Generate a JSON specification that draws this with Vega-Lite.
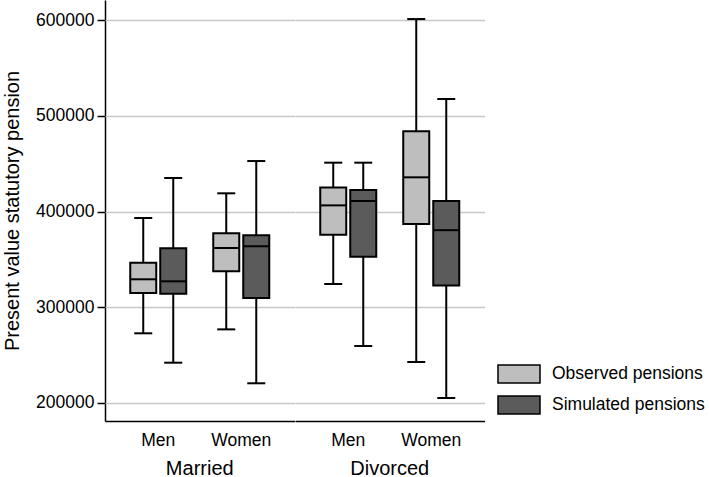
{
  "$schema": "https://vega.github.io/schema/vega-lite/v6.json",
  "padding": {"left": 2, "top": 0, "right": 0, "bottom": 0},
  "background": "white",
  "data": {"values": [
    {"marital": "Married", "gender": "Men", "type": "Observed pensions", "lower": 272800, "q1": 314900, "median": 329200, "q3": 346500, "upper": 393200},
    {"marital": "Married", "gender": "Men", "type": "Simulated pensions", "lower": 242100, "q1": 314200, "median": 327100, "q3": 361600, "upper": 435000},
    {"marital": "Married", "gender": "Women", "type": "Observed pensions", "lower": 276900, "q1": 337500, "median": 361900, "q3": 377200, "upper": 419000},
    {"marital": "Married", "gender": "Women", "type": "Simulated pensions", "lower": 220600, "q1": 309700, "median": 363700, "q3": 375100, "upper": 452700},
    {"marital": "Divorced", "gender": "Men", "type": "Observed pensions", "lower": 324300, "q1": 375700, "median": 406400, "q3": 425200, "upper": 451000},
    {"marital": "Divorced", "gender": "Men", "type": "Simulated pensions", "lower": 259500, "q1": 352800, "median": 411000, "q3": 422500, "upper": 451000},
    {"marital": "Divorced", "gender": "Women", "type": "Observed pensions", "lower": 242800, "q1": 387000, "median": 435700, "q3": 483800, "upper": 601000},
    {"marital": "Divorced", "gender": "Women", "type": "Simulated pensions", "lower": 205200, "q1": 322600, "median": 380500, "q3": 411000, "upper": 517500}
  ]},
  "facet": {
    "column": {
      "field": "marital", "type": "nominal", "sort": ["Married", "Divorced"],
      "header": {"title": null, "labelOrient": "bottom", "labelFontSize": 20, "labelFont": "Liberation Sans", "labelPadding": 10, "labelColor": "black"}
    }
  },
  "spacing": 0,
  "spec": {
    "width": 189.5,
    "height": 421,
    "encoding": {
      "x": {
        "field": "gender", "type": "nominal", "sort": ["Men", "Women"],
        "scale": {"paddingInner": 0.277, "paddingOuter": 0.28},
        "axis": {"title": null, "labelAngle": 0, "ticks": false, "tickSize": 0, "labelPadding": 10, "labelFontSize": 17.5, "labelColor": "black", "domainColor": "black", "domainWidth": 1.5, "grid": false}
      },
      "xOffset": {
        "field": "type", "type": "nominal", "sort": ["Observed pensions", "Simulated pensions"],
        "scale": {"paddingInner": 0, "paddingOuter": 0}
      }
    },
    "layer": [
      {
        "mark": {"type": "rule", "stroke": "black", "strokeWidth": 2},
        "encoding": {
          "y": {
            "field": "lower", "type": "quantitative",
            "scale": {"domain": [181200, 620900], "nice": false, "zero": false},
            "title": "Present value statutory pension",
            "axis": {"values": [200000, 300000, 400000, 500000, 600000], "format": "d", "labelFontSize": 17.5, "labelColor": "black", "tickSize": 8, "tickColor": "black", "tickWidth": 1.5, "domainColor": "black", "domainWidth": 1.5, "grid": true, "gridColor": "#c8c8c8", "gridWidth": 1.5, "titleFontSize": 20, "titleFontWeight": "normal", "titleColor": "black", "titlePadding": 13, "labelPadding": 3}
          },
          "y2": {"field": "upper"}
        }
      },
      {
        "mark": {"type": "tick", "color": "black", "thickness": 2, "size": 18, "opacity": 1},
        "encoding": {"y": {"field": "lower", "type": "quantitative"}}
      },
      {
        "mark": {"type": "tick", "color": "black", "thickness": 2, "size": 18, "opacity": 1},
        "encoding": {"y": {"field": "upper", "type": "quantitative"}}
      },
      {
        "mark": {"type": "bar", "size": 26, "stroke": "black", "strokeWidth": 2, "opacity": 1},
        "encoding": {
          "y": {"field": "q1", "type": "quantitative"},
          "y2": {"field": "q3"},
          "fill": {
            "field": "type", "type": "nominal",
            "scale": {"domain": ["Observed pensions", "Simulated pensions"], "range": ["#bebebe", "#5b5b5b"]},
            "legend": {
              "title": null, "orient": "none", "legendX": 404, "legendY": 364,
              "symbolType": "M-2.333,-1H2.333V1H-2.333Z", "symbolSize": 324,
              "symbolStrokeColor": "black", "symbolStrokeWidth": 1.5, "symbolOpacity": 1,
              "labelFontSize": 17.5, "labelColor": "black", "labelOffset": 23, "rowPadding": 7,
              "labelLimit": 300
            }
          }
        }
      },
      {
        "mark": {"type": "tick", "color": "black", "thickness": 2, "size": 26, "opacity": 1},
        "encoding": {"y": {"field": "median", "type": "quantitative"}}
      }
    ]
  },
  "config": {"view": {"stroke": null}, "font": "Liberation Sans"}
}
